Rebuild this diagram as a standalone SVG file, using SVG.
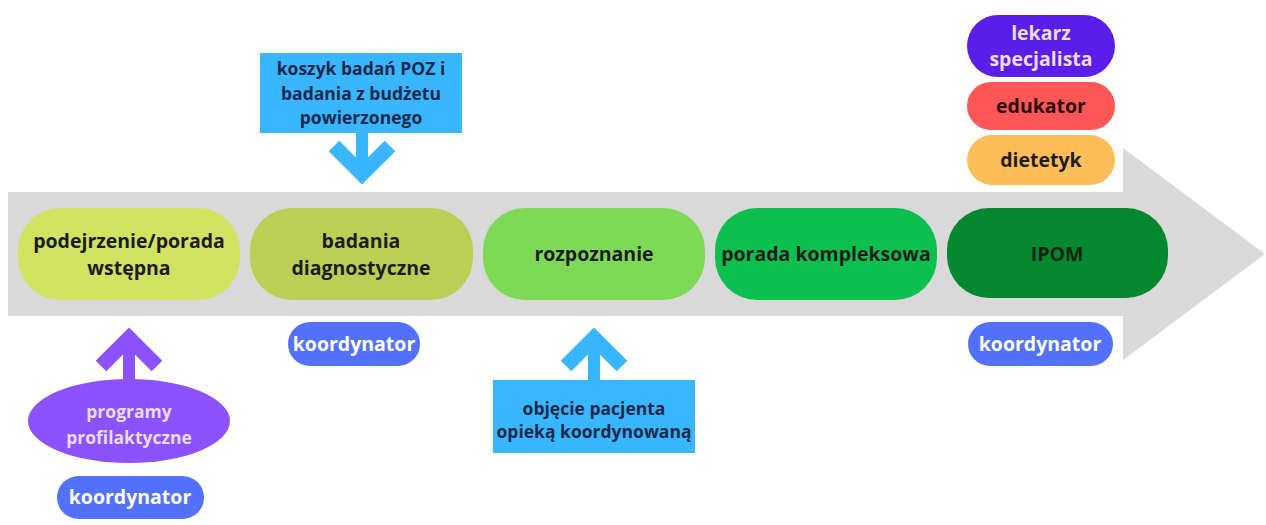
<svg xmlns="http://www.w3.org/2000/svg" width="1266" height="525" viewBox="0 0 1266 525">
<style>
.t{font-family:"Open Sans","Noto Sans","DejaVu Sans",sans-serif;font-weight:700;text-anchor:middle}
.big{font-size:19.5px}
.sm{font-size:17.5px}
.dk{fill:#1c1c1c}
.nv{fill:#16284a}
.wh{fill:#ffffff}
.lav{fill:#eadcff}
.blue{fill:#38b6ff}
.arr{fill:none;stroke-linecap:butt;stroke-linejoin:miter}
</style>
<rect width="1266" height="525" fill="#ffffff"/>
<g id="timeline">
<path d="M8 192 H1123 V148 L1265 254 L1123 360 V316 H8 Z" fill="#d9d9d9"/>
</g>
<g id="connectors">
<path class="arr" d="M362 133 V168" stroke="#38b6ff" stroke-width="12"/>
<path class="arr" d="M334 146 L362 174 L390 146" stroke="#38b6ff" stroke-width="15"/>
<path class="arr" d="M129 380 V345" stroke="#8c52ff" stroke-width="12"/>
<path class="arr" d="M101 366 L129 338 L157 366" stroke="#8c52ff" stroke-width="15"/>
<path class="arr" d="M594 380 V345" stroke="#38b6ff" stroke-width="12"/>
<path class="arr" d="M566 366 L594 338 L622 366" stroke="#38b6ff" stroke-width="15"/>
</g>
<g id="n-podejrzenie">
<rect x="18" y="208" width="222" height="92" rx="42" fill="#d2e261"/>
<text class="t big dk" x="129" y="248">podejrzenie/porada</text>
<text class="t big dk" x="129" y="275">wstępna</text>
</g>
<g id="n-badania">
<rect x="250" y="208" width="223" height="92" rx="42" fill="#bccf55"/>
<text class="t big dk" x="361" y="248">badania</text>
<text class="t big dk" x="361" y="275">diagnostyczne</text>
</g>
<g id="n-rozpoznanie">
<rect x="483" y="208" width="222" height="92" rx="42" fill="#7ed957"/>
<text class="t big dk" x="594" y="261">rozpoznanie</text>
</g>
<g id="n-porada">
<rect x="715" y="208" width="222" height="92" rx="42" fill="#0cc050"/>
<text class="t big dk" x="826" y="261">porada kompleksowa</text>
</g>
<g id="n-ipom">
<rect x="947" y="208" width="221" height="90" rx="42" fill="#03872f"/>
<text class="t big" x="1057" y="261" fill="#0b2612">IPOM</text>
</g>
<g id="n-lekarz">
<rect x="967" y="15" width="148" height="62" rx="31" fill="#5a1ee8"/>
<text class="t big lav" x="1041" y="40">lekarz</text>
<text class="t big lav" x="1041" y="66">specjalista</text>
</g>
<g id="n-edukator">
<rect x="967" y="82" width="148" height="48" rx="24" fill="#ff5757"/>
<text class="t big" x="1041" y="113" fill="#2a0808">edukator</text>
</g>
<g id="n-dietetyk">
<rect x="967" y="135" width="148" height="50" rx="25" fill="#ffbd59"/>
<text class="t big dk" x="1041" y="167">dietetyk</text>
</g>
<g id="n-koord-ipom">
<rect x="968" y="322" width="145" height="44" rx="22" fill="#5271ff"/>
<text class="t big wh" x="1040" y="351">koordynator</text>
</g>
<g id="n-koord-badania">
<rect x="288" y="322" width="132" height="44" rx="22" fill="#5271ff"/>
<text class="t big wh" x="354" y="351">koordynator</text>
</g>
<g id="n-koord-prog">
<rect x="57" y="476" width="147" height="43" rx="21.5" fill="#5271ff"/>
<text class="t big wh" x="130" y="504">koordynator</text>
</g>
<g id="n-programy">
<ellipse cx="129" cy="421" rx="101" ry="42" fill="#8c52ff"/>
<text class="t sm lav" x="129" y="418">programy</text>
<text class="t sm lav" x="129" y="444">profilaktyczne</text>
</g>
<g id="n-koszyk">
<rect x="260" y="53" width="202" height="80" class="blue"/>
<text class="t sm nv" x="361" y="75">koszyk badań POZ i</text>
<text class="t sm nv" x="361" y="100">badania z budżetu</text>
<text class="t sm nv" x="361" y="124">powierzonego</text>
</g>
<g id="n-objecie">
<rect x="493" y="380" width="202" height="73" class="blue"/>
<text class="t sm nv" x="594" y="415">objęcie pacjenta</text>
<text class="t sm nv" x="594" y="438">opieką koordynowaną</text>
</g>
</svg>
